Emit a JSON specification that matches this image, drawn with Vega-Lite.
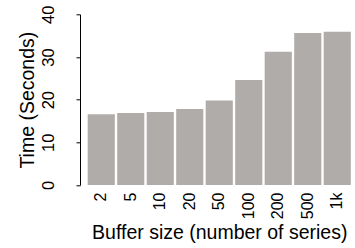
{
  "$schema": "https://vega.github.io/schema/vega-lite/v6.json",
  "autosize": "none",
  "width": 265.5,
  "height": 170.7,
  "padding": {"left": 86.5, "top": 14.3, "right": 3, "bottom": 63},
  "background": "white",
  "config": {
    "view": {"stroke": null},
    "font": "Liberation Sans",
    "axis": {"labelFont": "Liberation Sans", "titleFont": "Liberation Sans", "labelColor": "black", "titleColor": "black", "titleFontWeight": "normal", "domainColor": "black", "tickColor": "black", "grid": false}
  },
  "data": {
    "values": [
      {"size": "2", "time": 16.6},
      {"size": "5", "time": 16.9},
      {"size": "10", "time": 17.1},
      {"size": "20", "time": 17.8},
      {"size": "50", "time": 19.8},
      {"size": "100", "time": 24.6},
      {"size": "200", "time": 31.2},
      {"size": "500", "time": 35.6},
      {"size": "1k", "time": 35.9}
    ]
  },
  "mark": {"type": "bar", "color": "#b0acaa"},
  "encoding": {
    "x": {
      "field": "size", "type": "nominal", "sort": null,
      "scale": {"paddingInner": 0.08, "paddingOuter": 0.04},
      "axis": {
        "title": "Buffer size (number of series)",
        "titleFontSize": 19.5,
        "titleBaseline": "alphabetic",
        "titleY": 53,
        "labelAngle": -90,
        "labelAlign": "right",
        "labelBaseline": "middle",
        "labelFontSize": 16,
        "labelPadding": 7,
        "ticks": false,
        "tickSize": 0,
        "domain": false
      }
    },
    "y": {
      "field": "time", "type": "quantitative",
      "scale": {"domain": [0, 40], "nice": false},
      "axis": {
        "title": "Time (Seconds)",
        "titleFontSize": 19.5,
        "titleBaseline": "alphabetic",
        "titleAngle": -90,
        "titleX": -47,
        "values": [0, 10, 20, 30, 40],
        "offset": 6.5,
        "tickSize": 4,
        "labelAngle": -90,
        "labelAlign": "center",
        "labelBaseline": "alphabetic",
        "labelFontSize": 16.5,
        "labelPadding": 22.5,
        "domainWidth": 1,
        "tickWidth": 1
      }
    }
  }
}
